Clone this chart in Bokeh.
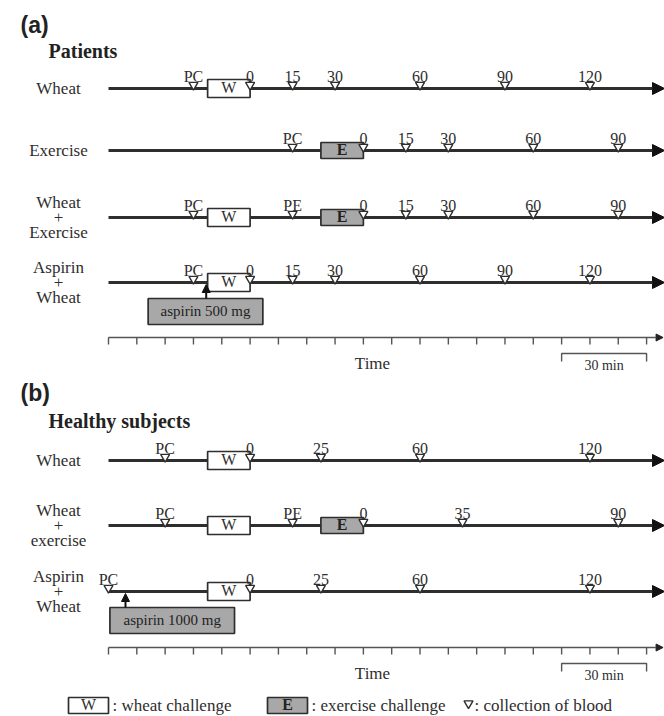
from bokeh.plotting import figure
from bokeh.models import Range1d, Arrow, NormalHead, ColumnDataSource
from bokeh.core.properties import value
from bokeh.embed import file_html
from bokeh.resources import INLINE

# ---------------- data (times in minutes along the protocol time axis) ----------------
# Panel (a): patients
A_ROWS = ["Wheat", "Exercise", "Wheat\n+\nExercise", "Aspirin\n+\nWheat"]
A_SAMPLE_T = [[30, 50, 65, 80, 110, 140, 170],
              [65, 90, 105, 120, 150, 180],
              [30, 65, 90, 105, 120, 150, 180],
              [30, 50, 65, 80, 110, 140, 170]]
A_SAMPLE_LBL = [["PC", "0", "15", "30", "60", "90", "120"],
                ["PC", "0", "15", "30", "60", "90"],
                ["PC", "PE", "0", "15", "30", "60", "90"],
                ["PC", "0", "15", "30", "60", "90", "120"]]
A_WHEAT = [[35, 50], None, [35, 50], [35, 50]]
A_EXERCISE = [None, [75, 90], [75, 90], None]
A_ASPIRIN_T = [None, None, None, 34.5]
A_ASPIRIN_BOX = [None, None, None, [14, 54.5]]
A_ASPIRIN_LBL = [None, None, None, "aspirin 500 mg"]

# Panel (b): healthy subjects
B_ROWS = ["Wheat", "Wheat\n+\nexercise", "Aspirin\n+\nWheat"]
B_SAMPLE_T = [[20, 50, 75, 110, 170],
              [20, 65, 90, 125, 180],
              [0, 50, 75, 110, 170]]
B_SAMPLE_LBL = [["PC", "0", "25", "60", "120"],
                ["PC", "PE", "0", "35", "90"],
                ["PC", "0", "25", "60", "120"]]
B_WHEAT = [[35, 50], [35, 50], [35, 50]]
B_EXERCISE = [None, [75, 90], None]
B_ASPIRIN_T = [None, None, 6]
B_ASPIRIN_BOX = [None, None, [0.5, 44.5]]
B_ASPIRIN_LBL = [None, None, "aspirin 1000 mg"]

TICK_MINUTES = list(range(0, 191, 10))
SCALE_BAR = [160, 190]
SCALE_LBL = "30 min"
LEGEND_LBL = [": wheat challenge", ": exercise challenge", ": collection of blood"]

# ---------------- layout ----------------
W, H = 664, 716
PXM = 2.832          # pixels per minute
X0 = 108             # pixel of time 0
def m(px):           # pixel -> minutes (layout helper for labels)
    return (px - X0) / PXM

T_END = m(664)
PANELS = [
    dict(tag="(a)", title="Patients", tag_y=24, title_y=50, rows=A_ROWS, ys=[88, 150, 217, 282],
         st=A_SAMPLE_T, sl=A_SAMPLE_LBL, wh=A_WHEAT, ex=A_EXERCISE,
         at=A_ASPIRIN_T, ab=A_ASPIRIN_BOX, al=A_ASPIRIN_LBL, axis_y=337),
    dict(tag="(b)", title="Healthy subjects", tag_y=392, title_y=420, rows=B_ROWS, ys=[460, 525, 591],
         st=B_SAMPLE_T, sl=B_SAMPLE_LBL, wh=B_WHEAT, ex=B_EXERCISE,
         at=B_ASPIRIN_T, ab=B_ASPIRIN_BOX, al=B_ASPIRIN_LBL, axis_y=647),
]

INK = "#2e2e2e"
GREY = "#a8a8a8"
SERIF = value("Liberation Serif")
SANS = value("Liberation Sans")

p = figure(width=W, height=H, output_backend="svg", toolbar_location=None,
           x_range=Range1d(m(0), m(W)), y_range=Range1d(H, 0),
           x_axis_location=None, y_axis_location=None, min_border=0,
           background_fill_color="white", border_fill_color="white")
p.grid.visible = False
p.outline_line_color = None

lines = dict(x0=[], x1=[], y=[])
samp = dict(x=[], y=[], ty=[], lbl=[])
wbox = dict(l=[], r=[], y=[], cx=[])
ebox = dict(l=[], r=[], y=[], cx=[])
asp = dict(t=[], y0=[], y1=[], l=[], r=[], top=[], bot=[], cx=[], cy=[], lbl=[])
rowlbl = dict(x=[], y=[], t=[])
ticks = dict(x=[], y0=[], y1=[])
axes = dict(x0=[], x1=[], y=[])
titles = dict(x=[], y=[], t=[])
tags = dict(x=[], y=[], t=[])
timelbl = dict(x=[], y=[], t=[])
bars = dict(xs=[], ys=[])
barlbl = dict(x=[], y=[], t=[])

for P in PANELS:
    tags["x"].append(m(20)); tags["y"].append(P["tag_y"]); tags["t"].append(P["tag"])
    titles["x"].append(m(48)); titles["y"].append(P["title_y"]); titles["t"].append(P["title"])
    for i, y in enumerate(P["ys"]):
        rowlbl["x"].append(m(58)); rowlbl["y"].append(y); rowlbl["t"].append(P["rows"][i])
        lines["x0"].append(0); lines["x1"].append(T_END); lines["y"].append(y)
        for t, l in zip(P["st"][i], P["sl"][i]):
            samp["x"].append(t); samp["y"].append(y - 3.5); samp["ty"].append(y - 12.5); samp["lbl"].append(l)
        if P["wh"][i]:
            a, b = P["wh"][i]
            wbox["l"].append(a); wbox["r"].append(b); wbox["y"].append(y); wbox["cx"].append((a + b) / 2)
        if P["ex"][i]:
            a, b = P["ex"][i]
            ebox["l"].append(a); ebox["r"].append(b); ebox["y"].append(y); ebox["cx"].append((a + b) / 2)
        if P["at"][i] is not None:
            a, b = P["ab"][i]
            asp["t"].append(P["at"][i]); asp["y0"].append(y + 16); asp["y1"].append(y + 2)
            asp["l"].append(a); asp["r"].append(b); asp["top"].append(y + 16); asp["bot"].append(y + 42)
            asp["cx"].append((a + b) / 2); asp["cy"].append(y + 28); asp["lbl"].append(P["al"][i])
    ay = P["axis_y"]
    axes["x0"].append(0); axes["x1"].append(T_END - 0.5); axes["y"].append(ay)
    for t in TICK_MINUTES:
        ticks["x"].append(t); ticks["y0"].append(ay); ticks["y1"].append(ay + 7)
    timelbl["x"].append(m(372)); timelbl["y"].append(ay + 26); timelbl["t"].append("Time")
    a, b = SCALE_BAR
    bars["xs"].append([a, a, b, b]); bars["ys"].append([ay + 24, ay + 16, ay + 16, ay + 24])
    barlbl["x"].append((a + b) / 2); barlbl["y"].append(ay + 28); barlbl["t"].append(SCALE_LBL)

# timelines with arrow heads (drawn beneath the boxes)
p.add_layout(Arrow(source=ColumnDataSource(lines), x_start="x0", x_end="x1", y_start="y", y_end="y",
                   line_color=INK, line_width=2.8, level="underlay",
                   end=NormalHead(size=12, fill_color="#111111", line_color="#111111")))
# time axes
p.add_layout(Arrow(source=ColumnDataSource(axes), x_start="x0", x_end="x1", y_start="y", y_end="y",
                   line_color="#555555", line_width=1.4, level="underlay",
                   end=NormalHead(size=7, fill_color="#222222", line_color="#222222")))
p.segment(x0="x", x1="x", y0="y0", y1="y1", source=ColumnDataSource(ticks), line_color="#555555", line_width=1.4)
p.multi_line(xs="xs", ys="ys", source=ColumnDataSource(bars), line_color="#555555", line_width=1.4)

# wheat / exercise boxes
ws = ColumnDataSource(dict(l=wbox["l"], r=wbox["r"], t=[y - 9 for y in wbox["y"]], b=[y + 9 for y in wbox["y"]],
                           cx=wbox["cx"], cy=[y - 1 for y in wbox["y"]]))
p.quad(left="l", right="r", top="t", bottom="b", source=ws, fill_color="white", line_color=INK, line_width=1.7)
p.text(x="cx", y="cy", text=value("W"), source=ws, text_font=SERIF, text_font_size="16px",
       text_align="center", text_baseline="middle", text_color=INK)
es = ColumnDataSource(dict(l=ebox["l"], r=ebox["r"], t=[y - 8 for y in ebox["y"]], b=[y + 8 for y in ebox["y"]],
                           cx=ebox["cx"], cy=[y - 1 for y in ebox["y"]]))
p.quad(left="l", right="r", top="t", bottom="b", source=es, fill_color=GREY, line_color=INK, line_width=1.7)
p.text(x="cx", y="cy", text=value("E"), source=es, text_font=SERIF, text_font_size="16px", text_font_style="bold",
       text_align="center", text_baseline="middle", text_color="#222222")

# aspirin
asrc = ColumnDataSource(asp)
p.quad(left="l", right="r", top="top", bottom="bot", source=asrc, fill_color=GREY, line_color=INK, line_width=1.7)
p.text(x="cx", y="cy", text="lbl", source=asrc, text_font=SERIF, text_font_size="15px",
       text_align="center", text_baseline="middle", text_color="#222222")
p.add_layout(Arrow(source=asrc, x_start="t", x_end="t", y_start="y0", y_end="y1",
                   line_color="#111111", line_width=2,
                   end=NormalHead(size=8, fill_color="#111111", line_color="#111111")))

# blood collection markers
ss = ColumnDataSource(samp)
p.scatter(x="x", y="y", source=ss, marker="inverted_triangle", size=9, fill_color="white",
          line_color=INK, line_width=1.4)
p.text(x="x", y="ty", text="lbl", source=ss, text_font=SERIF, text_font_size="16px",
       text_align="center", text_baseline="middle", text_color=INK)

# labels
p.text(x="x", y="y", text="t", source=ColumnDataSource(rowlbl), text_font=SERIF, text_font_size="17px",
       text_align="center", text_baseline="middle", text_color=INK, text_line_height=0.8)
p.text(x="x", y="y", text="t", source=ColumnDataSource(titles), text_font=SERIF, text_font_size="20px",
       text_font_style="bold", text_align="left", text_baseline="middle", text_color="#222222")
p.text(x="x", y="y", text="t", source=ColumnDataSource(tags), text_font=SANS, text_font_size="23px",
       text_font_style="bold", text_align="left", text_baseline="middle", text_color="#222222")
p.text(x="x", y="y", text="t", source=ColumnDataSource(timelbl), text_font=SERIF, text_font_size="17px",
       text_align="center", text_baseline="middle", text_color=INK)
p.text(x="x", y="y", text="t", source=ColumnDataSource(barlbl), text_font=SERIF, text_font_size="14px",
       text_align="center", text_baseline="middle", text_color=INK)

# legend
LEG_Y = 705
lw = ColumnDataSource(dict(l=[m(68)], r=[m(108)], t=[LEG_Y - 8], b=[LEG_Y + 8], cx=[m(88)], cy=[LEG_Y - 1]))
p.quad(left="l", right="r", top="t", bottom="b", source=lw, fill_color="white", line_color=INK, line_width=1.7)
p.text(x="cx", y="cy", text=value("W"), source=lw, text_font=SERIF, text_font_size="16px",
       text_align="center", text_baseline="middle", text_color=INK)
le = ColumnDataSource(dict(l=[m(267)], r=[m(307)], t=[LEG_Y - 8], b=[LEG_Y + 8], cx=[m(287)], cy=[LEG_Y - 1]))
p.quad(left="l", right="r", top="t", bottom="b", source=le, fill_color=GREY, line_color=INK, line_width=1.7)
p.text(x="cx", y="cy", text=value("E"), source=le, text_font=SERIF, text_font_size="16px", text_font_style="bold",
       text_align="center", text_baseline="middle", text_color="#222222")
p.scatter(x=[m(468)], y=[LEG_Y - 2], marker="inverted_triangle", size=9, fill_color="white",
          line_color=INK, line_width=1.4)
p.text(x=[m(112), m(311), m(474)], y=[LEG_Y] * 3, text=LEGEND_LBL, text_font=SERIF, text_font_size="17px",
       text_align="left", text_baseline="middle", text_color=INK)

open("out.html", "w").write(file_html(p, INLINE))
